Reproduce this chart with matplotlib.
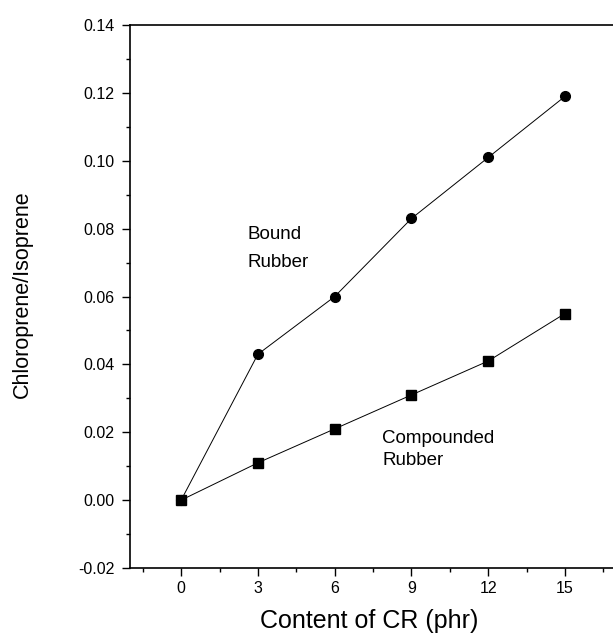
import matplotlib
matplotlib.use("Agg")
import matplotlib.pyplot as plt
from matplotlib.ticker import MultipleLocator

plt.rcParams['font.family'] = ['Liberation Sans', 'DejaVu Sans']

# data
cr_content = [0, 3, 6, 9, 12, 15]
bound_rubber = [0.0, 0.043, 0.060, 0.083, 0.101, 0.119]
compounded_rubber = [0.0, 0.011, 0.021, 0.031, 0.041, 0.055]

fig = plt.figure(figsize=(6.13, 6.35), dpi=100)
# right spine sits just outside the picture, as in the scanned original
ax = fig.add_axes([0.212, 0.1055, 0.835, 0.855])

ax.plot(cr_content, bound_rubber, color='black', linewidth=0.7,
        marker='o', markersize=7)
ax.plot(cr_content, compounded_rubber, color='black', linewidth=0.7,
        marker='s', markersize=6.5)

ax.text(2.58, 0.0769, 'Bound', fontsize=13.5, va='baseline')
ax.text(2.58, 0.0687, 'Rubber', fontsize=13.5, va='baseline')
ax.text(7.85, 0.0168, 'Compounded', fontsize=13.5, va='baseline')
ax.text(7.85, 0.0103, 'Rubber', fontsize=13.5, va='baseline')

ax.set_xlim(-2, 18)
ax.set_ylim(-0.02, 0.14)
ax.xaxis.set_major_locator(MultipleLocator(3))
ax.xaxis.set_minor_locator(MultipleLocator(1.5))
ax.yaxis.set_major_locator(MultipleLocator(0.02))
ax.yaxis.set_minor_locator(MultipleLocator(0.01))
ax.set_xticks([0, 3, 6, 9, 12, 15])
ax.yaxis.set_major_formatter(plt.FuncFormatter(lambda v, p: f'{v:.2f}'))

ax.tick_params(which='major', direction='out', length=5.5, width=1, labelsize=11.5)
ax.tick_params(which='minor', direction='out', length=3, width=1)
ax.tick_params(axis='y', pad=5.5)
ax.tick_params(axis='x', pad=3.5)

for s in ax.spines.values():
    s.set_linewidth(1.2)

ax.set_xlabel('Content of CR (phr)', fontsize=18)
ax.set_ylabel('Chloroprene/Isoprene', fontsize=15.5)
ax.xaxis.set_label_coords(0.467, -0.0755)
ax.yaxis.set_label_coords(-0.19, 0.505)

fig.savefig('out.png', dpi=100)
